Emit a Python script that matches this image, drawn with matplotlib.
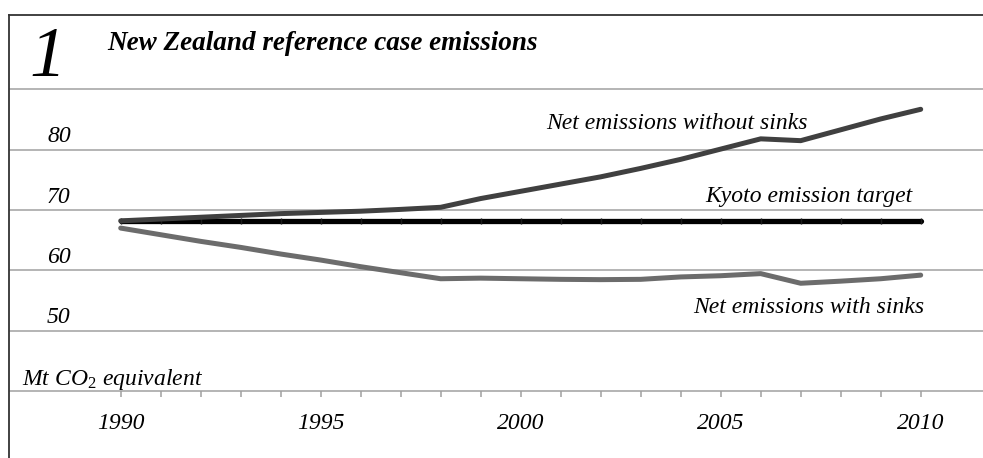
import matplotlib
matplotlib.use("Agg")
import matplotlib.pyplot as plt
import matplotlib.transforms as mtransforms
from matplotlib.lines import Line2D

plt.rcParams['font.family'] = ['Liberation Serif', 'DejaVu Serif']
plt.rcParams['mathtext.fontset'] = 'custom'
plt.rcParams['mathtext.rm'] = 'Liberation Serif'
plt.rcParams['mathtext.it'] = 'Liberation Serif:italic'

# ---- data ----
years = list(range(1990, 2011))
without_sinks = [68.2, 68.5, 68.8, 69.1, 69.4, 69.6, 69.8, 70.1, 70.45, 71.9, 73.1,
                 74.3, 75.5, 76.9, 78.4, 80.1, 81.8, 81.5, 83.3, 85.1, 86.7]
with_sinks = [67.0, 65.9, 64.8, 63.8, 62.7, 61.7, 60.6, 59.6, 58.6, 58.7, 58.6,
              58.5, 58.45, 58.5, 58.9, 59.1, 59.45, 57.85, 58.2, 58.6, 59.2]
kyoto_target = [68.2] * len(years)
grid_values = [90, 80, 70, 60, 50]
ytick_labels = ['80', '70', '60', '50']
xtick_labels = ['1990', '1995', '2000', '2005', '2010']
axis_value = 40

W, H = 983, 458
fig = plt.figure(figsize=(W / 100, H / 100), dpi=100)
ax = fig.add_axes([0, 0, 1, 1])
ax.set_facecolor('none')

# pixel mapping: x = 120.7 + (yr-1990)*40 ; y(from top) = 210 - (v-70)*6.03
x0 = 1990 - 120.7 / 40
x1 = 1990 + (W - 120.7) / 40
ytop = 70 + 210 / 6.03
ybot = 70 - (H - 210) / 6.03
ax.set_xlim(x0, x1)
ax.set_ylim(ybot, ytop)

grid_col = '#a0a0a0'
left_frac = 10 / W
for v in grid_values:
    ax.axhline(v, xmin=left_frac, xmax=1, color=grid_col, lw=1.1, zorder=1)

# bottom axis at value 40
for s in ['top', 'right', 'left']:
    ax.spines[s].set_visible(False)
ax.spines['bottom'].set_position(('data', axis_value))
ax.spines['bottom'].set_color(grid_col)
ax.spines['bottom'].set_linewidth(1.1)
ax.spines['bottom'].set_bounds(x0 + 10 / 40, x1)
ax.set_xticks(years)
ax.set_xticklabels([str(y) if str(y) in xtick_labels else '' for y in years],
                   fontsize=17, fontstyle='italic')
ax.tick_params(axis='x', direction='out', length=4.5, width=1.1, color=grid_col, pad=11.5)
ax.set_yticks([])

# lines
ax.plot(years, kyoto_target, color='black', lw=3.8, solid_capstyle='round', zorder=3,
        marker='|', ms=4.2, mew=1.0, mec='#1a1a1a')
ax.plot(years, with_sinks, color='#6c6c6c', lw=3.6, solid_capstyle='round', zorder=3)
ax.plot(years, without_sinks, color='#404040', lw=3.6, solid_capstyle='round', zorder=4)

# y labels above gridlines
trans = mtransforms.blended_transform_factory(ax.transAxes, ax.transData)
for lab in ytick_labels:
    v = float(lab)
    ax.text(47 / W, v + 1.2, lab, transform=trans, fontsize=17, fontstyle='italic',
            ha='left', va='baseline')

# series labels
ax.text(2003.9, 83.4, 'Net emissions without sinks', fontsize=17, fontstyle='italic',
        ha='center', va='baseline')
ax.text(2009.8, 71.4, 'Kyoto emission target', fontsize=17, fontstyle='italic',
        ha='right', va='baseline')
ax.text(2010.1, 52.9, 'Net emissions with sinks', fontsize=17, fontstyle='italic',
        ha='right', va='baseline')
ax.text(22 / W, axis_value + 1.0, r'Mt CO$_2$ equivalent', transform=trans, fontsize=17,
        fontstyle='italic', ha='left', va='baseline')

# titles
fig.text(47 / W, 1 - 76 / H, '1', fontsize=52, fontstyle='italic', ha='center', va='baseline')
fig.text(107 / W, 1 - 50 / H, 'New Zealand reference case emissions', fontsize=19.5,
         fontstyle='italic', fontweight='bold', ha='left', va='baseline')

# frame lines (left and top)
fig.add_artist(Line2D([9 / W, 9 / W], [0, 1 - 15 / H], transform=fig.transFigure,
                      color='#333333', lw=1.3))
fig.add_artist(Line2D([9 / W, 1], [1 - 15 / H, 1 - 15 / H], transform=fig.transFigure,
                      color='#333333', lw=1.3))

fig.savefig('out.png', dpi=100)
